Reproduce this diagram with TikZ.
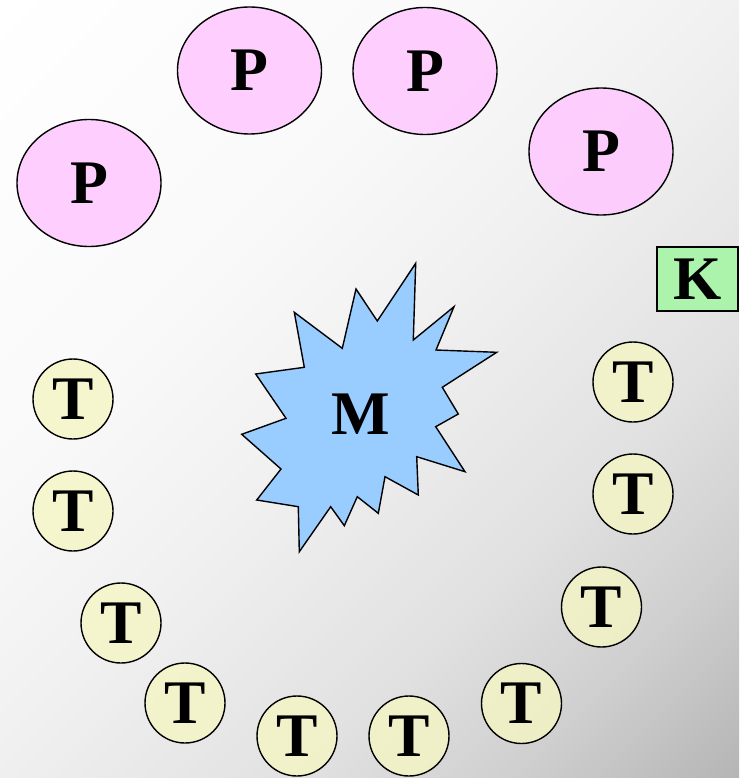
\documentclass[tikz,border=0pt]{standalone}
\usepackage{fontspec}
\setmainfont{Liberation Serif}
\usetikzlibrary{shapes.geometric}
\definecolor{pfill}{HTML}{FFC8FF}
\definecolor{tfill}{HTML}{F6F6C4}
\definecolor{kfill}{HTML}{A6F5A6}
\definecolor{mfill}{HTML}{99CCFF}
\definecolor{bga}{HTML}{F9F9F9}
\definecolor{bgb}{HTML}{F0F0F0}
\definecolor{bgc}{HTML}{E1E1E1}
\definecolor{bgd}{HTML}{CFCFCF}
\definecolor{bge}{HTML}{B5B5B5}
\pgfdeclareverticalshading{bgshade}{100bp}{color(0bp)=(bge); color(25bp)=(bge); color(32.5bp)=(bgd); color(39.5bp)=(bgc); color(50bp)=(bgb); color(59bp)=(bga); color(75bp)=(white); color(100bp)=(white)}
\tikzset{
  lbl/.style={font=\bfseries\fontsize{62}{62}\selectfont, text=black},
  pnode/.style={lbl, ellipse, draw=black, line width=1.4pt, fill=pfill, fill opacity=0.85, text opacity=1, minimum width=144pt, minimum height=127pt, inner sep=0pt},
  tnode/.style={lbl, circle, draw=black, line width=1.4pt, fill=tfill, fill opacity=0.8, text opacity=1, minimum size=80pt, inner sep=0pt},
  knode/.style={lbl, rectangle, draw=black, line width=1.4pt, fill=kfill, fill opacity=0.9, text opacity=1, minimum width=81pt, minimum height=64pt, inner sep=0pt},
  starshape/.style={draw=black, line width=1.4pt, fill=mfill, line join=miter},
}
\begin{document}
\begin{tikzpicture}[x=1pt,y=-1pt]
\useasboundingbox (0,0) rectangle (739,778);
\begin{scope}
\clip (0,0) rectangle (739,778);
\shade[transform canvas={rotate around={45:(369.5,389)}}, shading=bgshade]
  (-167,-148) rectangle (906,925);
\end{scope}
% P ellipses
\node[pnode] (P1) at (89,183) {P};
\node[pnode] (P2) at (249.5,70.5) {P};
\node[pnode] (P3) at (425,71) {P};
\node[pnode] (P4) at (601,151.5) {P};
% K
\node[knode] (K) at (697.5,279) {K};
% star M
\draw[starshape] (415.7,263.3) -- (413.3,340) -- (454,306.7) -- (436,350) -- (496.7,352.3)
  -- (442.3,387.3) -- (458.3,414) -- (435.7,426.7) -- (465,471.7) -- (416.7,456.7)
  -- (418.3,495) -- (385,476.7) -- (378.3,513.3) -- (357.3,496.7) -- (344.3,525.7)
  -- (330.7,506.7) -- (299.3,551.7) -- (298.3,506.7) -- (256.7,500) -- (281,469)
  -- (241.7,434.3) -- (286,418.3) -- (255.7,374) -- (304.3,367.3) -- (294.3,312.3)
  -- (342.3,348.3) -- (356,289) -- (377.3,321) -- cycle;
\node[lbl] (M) at (361,414) {M};
% T circles
\node[tnode] (T1) at (73,399) {T};
\node[tnode] (T2) at (73,511) {T};
\node[tnode] (T3) at (121,623) {T};
\node[tnode] (T4) at (185,703) {T};
\node[tnode] (T5) at (297,736) {T};
\node[tnode] (T6) at (409,736) {T};
\node[tnode] (T7) at (521.5,703.5) {T};
\node[tnode] (T8) at (601.5,607) {T};
\node[tnode] (T9) at (633,494) {T};
\node[tnode] (T10) at (633,382) {T};
\end{tikzpicture}
\end{document}
